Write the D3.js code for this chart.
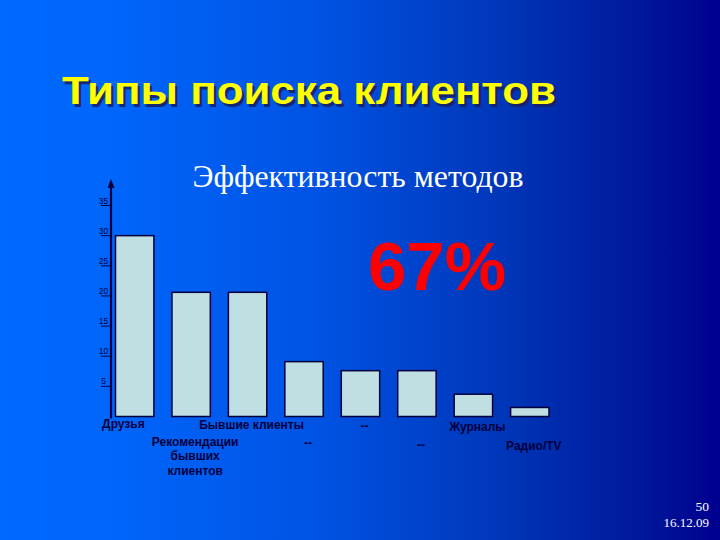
<!DOCTYPE html>
<html>
<head>
<meta charset="utf-8">
<script src="https://cdn.jsdelivr.net/npm/d3@7"></script>
<style>
  html, body { margin: 0; padding: 0; overflow: hidden; }
</style>
</head>
<body>
<div id="slide"></div>
<script>
const width = 720,
    height = 540;

// data
const categories = ["Друзья", "Рекомендации бывших клиентов", "Бывшие клиенты", "--", "--", "--", "Журналы", "Радио/TV"];
const labelLines = [["Друзья"], ["Рекомендации", "бывших", "клиентов"], ["Бывшие клиенты"], ["--"], ["--"], ["--"], ["Журналы"], ["Радио/TV"]];
const values = [30, 20.6, 20.6, 9.1, 7.6, 7.6, 3.7, 1.5];
const yTicks = [5, 10, 15, 20, 25, 30, 35];

const slideTitle = "Типы поиска клиентов";
const chartTitle = "Эффективность методов";
const bigNumber = "67%";
const pageNum = "50";
const dateText = "16.12.09";

const svg = d3
    .select("#slide")
    .append("svg")
    .attr("width", width)
    .attr("height", height);

// background gradient, bright blue to navy
const defs = svg.append("defs");
const grad = defs
    .append("linearGradient")
    .attr("id", "bg")
    .attr("x1", "0%")
    .attr("x2", "100%")
    .attr("y1", "0%")
    .attr("y2", "0%");
[
    ["0%", "#0068ff"],
    ["15%", "#0066fc"],
    ["45%", "#0052e2"],
    ["70%", "#0036b8"],
    ["88%", "#001a9c"],
    ["100%", "#00008e"]
].forEach((s) => grad.append("stop").attr("offset", s[0]).attr("stop-color", s[1]));

svg.append("rect")
    .attr("width", width)
    .attr("height", height)
    .attr("fill", "url(#bg)");

// slide title with shadow (the original is stretched wide)
const titleWidth = 494;
svg.append("text")
    .attr("x", 64.5)
    .attr("y", 106.5)
    .attr("font-family", "Liberation Sans, Arial, sans-serif")
    .attr("font-weight", "bold")
    .attr("font-size", 38)
    .attr("textLength", titleWidth)
    .attr("lengthAdjust", "spacingAndGlyphs")
    .attr("fill", "#1b1f5c")
    .attr("opacity", 0.85)
    .text(slideTitle);
svg.append("text")
    .attr("x", 62)
    .attr("y", 104)
    .attr("font-family", "Liberation Sans, Arial, sans-serif")
    .attr("font-weight", "bold")
    .attr("font-size", 38)
    .attr("textLength", titleWidth)
    .attr("lengthAdjust", "spacingAndGlyphs")
    .attr("fill", "#ffff00")
    .text(slideTitle);

// chart title
svg.append("text")
    .attr("x", 358)
    .attr("y", 187)
    .attr("text-anchor", "middle")
    .attr("font-family", "Liberation Serif, Times New Roman, serif")
    .attr("font-size", 31.8)
    .attr("fill", "#ffffff")
    .text(chartTitle);

// scales
const baseY = 416.5;
const yScale = d3.scaleLinear().domain([0, 35]).range([baseY, 205.5]);
const xScale = d3
    .scaleBand()
    .domain(d3.range(categories.length))
    .range([115.5, 549])
    .paddingInner(0.32)
    .paddingOuter(0);

const ink = "#00003c";

// bars
svg.append("g")
    .selectAll("rect")
    .data(values)
    .enter()
    .append("rect")
    .attr("x", (d, i) => xScale(i))
    .attr("y", (d) => yScale(d))
    .attr("width", xScale.bandwidth())
    .attr("height", (d) => yScale(0) - yScale(d))
    .attr("fill", "#bfdfe3")
    .attr("stroke", ink)
    .attr("stroke-width", 1.5);

// y axis: line with arrow, ticks to the left, labels sitting on the ticks
const axisX = 111;
const yAxis = svg.append("g").attr("id", "y-axis");
yAxis.append("line")
    .attr("x1", axisX)
    .attr("x2", axisX)
    .attr("y1", baseY + 2)
    .attr("y2", 186)
    .attr("stroke", ink)
    .attr("stroke-width", 2.2);
yAxis.append("path")
    .attr("d", d3.line()([[axisX - 3.5, 188], [axisX, 179], [axisX + 3.5, 188]]) + "Z")
    .attr("fill", ink);
const ticks = yAxis
    .selectAll("g.tick")
    .data(yTicks)
    .enter()
    .append("g")
    .attr("class", "tick")
    .attr("transform", (d) => "translate(0," + yScale(d) + ")");
ticks.append("line")
    .attr("x1", 101)
    .attr("x2", axisX)
    .attr("stroke", ink)
    .attr("stroke-width", 1);
ticks.append("text")
    .attr("x", 103.5)
    .attr("y", -2)
    .attr("text-anchor", "middle")
    .attr("font-family", "Liberation Sans, Arial, sans-serif")
    .attr("font-size", 8.5)
    .attr("fill", ink)
    .text((d) => d);

// category labels, staggered on two rows like the original
const labels = svg
    .append("g")
    .selectAll("text")
    .data(labelLines)
    .enter()
    .append("text")
    .attr("font-family", "Liberation Sans, Arial, sans-serif")
    .attr("font-weight", "bold")
    .attr("font-size", 12)
    .attr("fill", ink)
    .attr("text-anchor", (d, i) => (i === 0 ? "end" : "middle"))
    .attr("transform", (d, i) => {
        const cx = xScale(i) + xScale.bandwidth() / 2;
        const x = i === 0 ? cx + 10 : cx + 4;
        const y = 427.5 + (i % 2) * 18 + i * 0.6;
        return "translate(" + x + "," + y + ")";
    });
labels
    .selectAll("tspan")
    .data((d) => d)
    .enter()
    .append("tspan")
    .attr("x", 0)
    .attr("dy", (d, j) => (j === 0 ? 0 : 14.3))
    .text((d) => d);

// big red figure
svg.append("text")
    .attr("x", 368)
    .attr("y", 290)
    .attr("font-family", "Liberation Sans, Arial, sans-serif")
    .attr("font-weight", "bold")
    .attr("font-size", 69)
    .attr("fill", "#ff0000")
    .text(bigNumber);

// slide number and date
svg.append("text")
    .attr("x", 709)
    .attr("y", 511)
    .attr("text-anchor", "end")
    .attr("font-family", "Liberation Serif, Times New Roman, serif")
    .attr("font-size", 13.5)
    .attr("fill", "#ffffff")
    .text(pageNum);
svg.append("text")
    .attr("x", 709)
    .attr("y", 527)
    .attr("text-anchor", "end")
    .attr("font-family", "Liberation Serif, Times New Roman, serif")
    .attr("font-size", 13)
    .attr("fill", "#ffffff")
    .text(dateText);
</script>
</body>
</html>
